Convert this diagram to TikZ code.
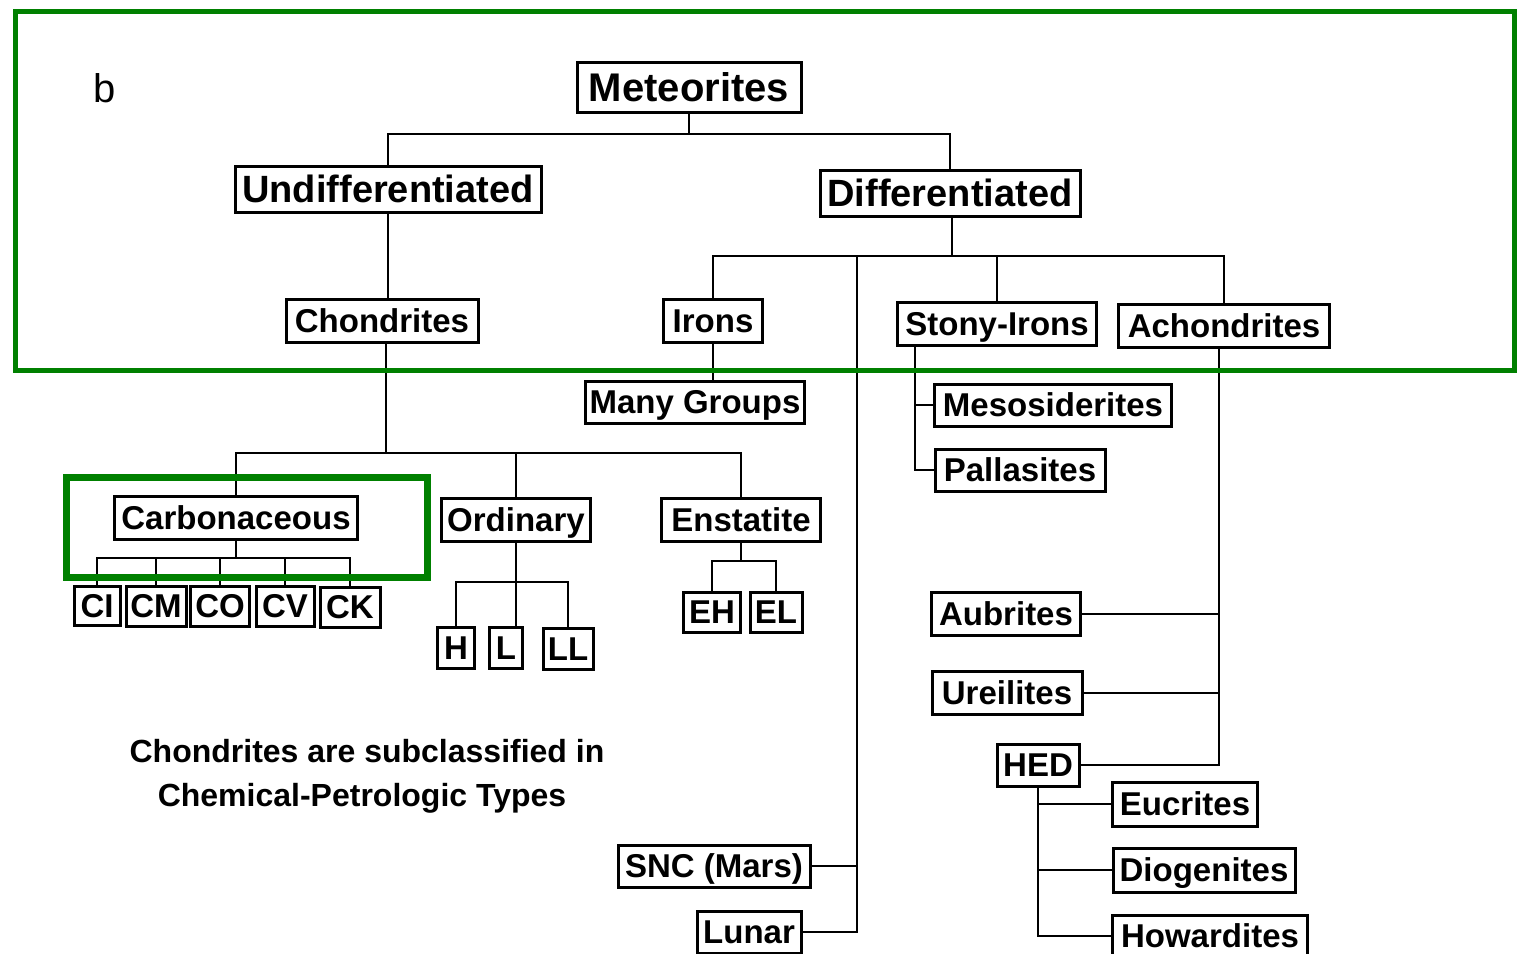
\documentclass[tikz,border=0pt]{standalone}
\usepackage{fontspec}
\setmainfont{Liberation Sans}
\definecolor{gr}{RGB}{0,128,0}
\begin{document}
\begin{tikzpicture}[x=1pt,y=-1pt,
  bx/.style={draw, line width=3pt, fill=white, inner sep=0pt, text height=23.8pt, text depth=0pt,
    font=\bfseries\fontsize{33}{36}\selectfont},
  big/.style={bx, text height=27.2pt, font=\bfseries\fontsize{38}{40}\selectfont},
  ln/.style={line width=2pt},
  gframe/.style={draw=gr, line width=#1}]
\useasboundingbox (0,0) rectangle (1517,953);

% label
\node[font=\fontsize{40}{44}\selectfont, inner sep=0pt] (lb) at (105,88) {b};

% top levels
\node[big, text height=28.6pt, font=\bfseries\fontsize{40}{42}\selectfont, minimum width=224pt, minimum height=50pt] (met) at (689,87) {Meteorites};
\node[big, minimum width=306pt, minimum height=46pt] (und) at (388,189) {Undifferentiated};
\node[big, minimum width=260pt, minimum height=46pt] (dif) at (950,193) {Differentiated};

\node[bx, minimum width=192pt, minimum height=43pt] (chon) at (382,321) {Chondrites};
\node[bx, minimum width=99pt, minimum height=43pt] (irons) at (713,321) {Irons};
\node[bx, minimum width=199pt, minimum height=43pt] (stony) at (997,324) {Stony-Irons};
\node[bx, minimum width=211pt, minimum height=43pt] (achon) at (1224,326) {Achondrites};

\node[bx, minimum width=219pt, minimum height=42pt] (many) at (695,402) {Many Groups};
\node[bx, minimum width=237pt, minimum height=42pt] (meso) at (1053,405) {Mesosiderites};
\node[bx, minimum width=170pt, minimum height=42pt] (palla) at (1020,470) {Pallasites};

\node[bx, minimum width=243pt, minimum height=43pt] (carb) at (236,518) {Carbonaceous};
\node[bx, minimum width=149pt, minimum height=43pt] (ord) at (516,520) {Ordinary};
\node[bx, minimum width=159pt, minimum height=43pt] (ens) at (741,520) {Enstatite};

\node[bx, minimum width=46pt, minimum height=39pt] (ci) at (97,606) {CI};
\node[bx, minimum width=60pt, minimum height=40pt] (cm) at (156,606) {CM};
\node[bx, minimum width=59pt, minimum height=40pt] (co) at (220,606) {CO};
\node[bx, minimum width=58pt, minimum height=40pt] (cv) at (285,606) {CV};
\node[bx, minimum width=60pt, minimum height=40pt] (ck) at (350,607) {CK};

\node[bx, minimum width=37pt, minimum height=41pt] (h) at (456,648) {H};
\node[bx, minimum width=33pt, minimum height=41pt] (l) at (506,648) {L};
\node[bx, minimum width=50pt, minimum height=41pt] (ll) at (568,649) {LL};

\node[bx, minimum width=57pt, minimum height=40pt] (eh) at (712,612) {EH};
\node[bx, minimum width=52pt, minimum height=40pt] (el) at (776,612) {EL};

\node[bx, minimum width=149pt, minimum height=43pt] (aub) at (1006,614) {Aubrites};
\node[bx, minimum width=150pt, minimum height=43pt] (ure) at (1007,693) {Ureilites};
\node[bx, minimum width=82pt, minimum height=42pt] (hed) at (1038,765) {HED};
\node[bx, minimum width=145pt, minimum height=44pt] (euc) at (1185,804) {Eucrites};
\node[bx, minimum width=182pt, minimum height=44pt] (diog) at (1204,870) {Diogenites};
\node[bx, minimum width=195pt, minimum height=42pt] (howa) at (1210,936) {Howardites};

\node[bx, minimum width=192pt, minimum height=42pt] (snc) at (714,866) {SNC (Mars)};
\node[bx, minimum width=104pt, minimum height=42pt] (lunar) at (749,932) {Lunar};

% note text
\node[font=\bfseries\fontsize{32}{36}\selectfont, inner sep=0pt] (t1) at (367,751) {Chondrites are subclassified in};
\node[font=\bfseries\fontsize{32}{36}\selectfont, inner sep=0pt] (t2) at (362,798) {Chemical-Petrologic Types};

% bus coordinates
\coordinate (mbus) at (689,134);
\coordinate (dbus) at (952,256);
\coordinate (lv) at (857,256);
\coordinate (cbus) at (386,453);
\coordinate (kbus) at (236,558);
\coordinate (obus) at (516,582);
\coordinate (ebus) at (741,561);
\coordinate (sv) at ([xshift=19pt]stony.south west);
\coordinate (av) at ([xshift=-5pt]achon.south);

% connectors
\draw[ln] (met.south) -- (mbus);
\draw[ln] (und.north) |- (mbus) -| (dif.north);
\draw[ln] (und.south) -- (und.south |- chon.north);

\draw[ln] (dif.south -| dbus) -- (dbus);
\draw[ln] (irons.north) |- (dbus) -| (achon.north);
\draw[ln] (stony.north) -- (stony.north |- dbus);
\draw[ln] (lunar.east) -| (lv);
\draw[ln] (snc.east) -- (snc.east -| lv);

\draw[ln] (irons.south) -- (irons.south |- many.north);

\draw[ln] (sv) |- (palla.west);
\draw[ln] (meso.west) -- (meso.west -| sv);

\draw[ln] (av) |- (hed.east);
\draw[ln] (aub.east) -- (aub.east -| av);
\draw[ln] (ure.east) -- (ure.east -| av);

\draw[ln] (hed.south) |- (howa.west);
\draw[ln] (euc.west) -- (euc.west -| hed.south);
\draw[ln] (diog.west) -- (diog.west -| hed.south);

\draw[ln] (chon.south -| cbus) -- (cbus);
\draw[ln] (carb.north) |- (cbus) -| (ens.north);
\draw[ln] (ord.north) -- (ord.north |- cbus);

\draw[ln] (carb.south) -- (kbus);
\draw[ln] (ci.north) |- (kbus) -| (ck.north);
\draw[ln] (cm.north) -- (cm.north |- kbus);
\draw[ln] (co.north) -- (co.north |- kbus);
\draw[ln] (cv.north) -- (cv.north |- kbus);

\draw[ln] (ord.south) -- (ord.south |- l.north);
\draw[ln] (h.north) |- (obus) -| (ll.north);

\draw[ln] (ens.south) -- (ebus);
\draw[ln] (eh.north) |- (ebus) -| (el.north);

% green frames
\draw[gframe=5pt] (15,11) rectangle (1514,370);
\draw[gframe=7pt] (66,477) rectangle (427,577);
\end{tikzpicture}
\end{document}
